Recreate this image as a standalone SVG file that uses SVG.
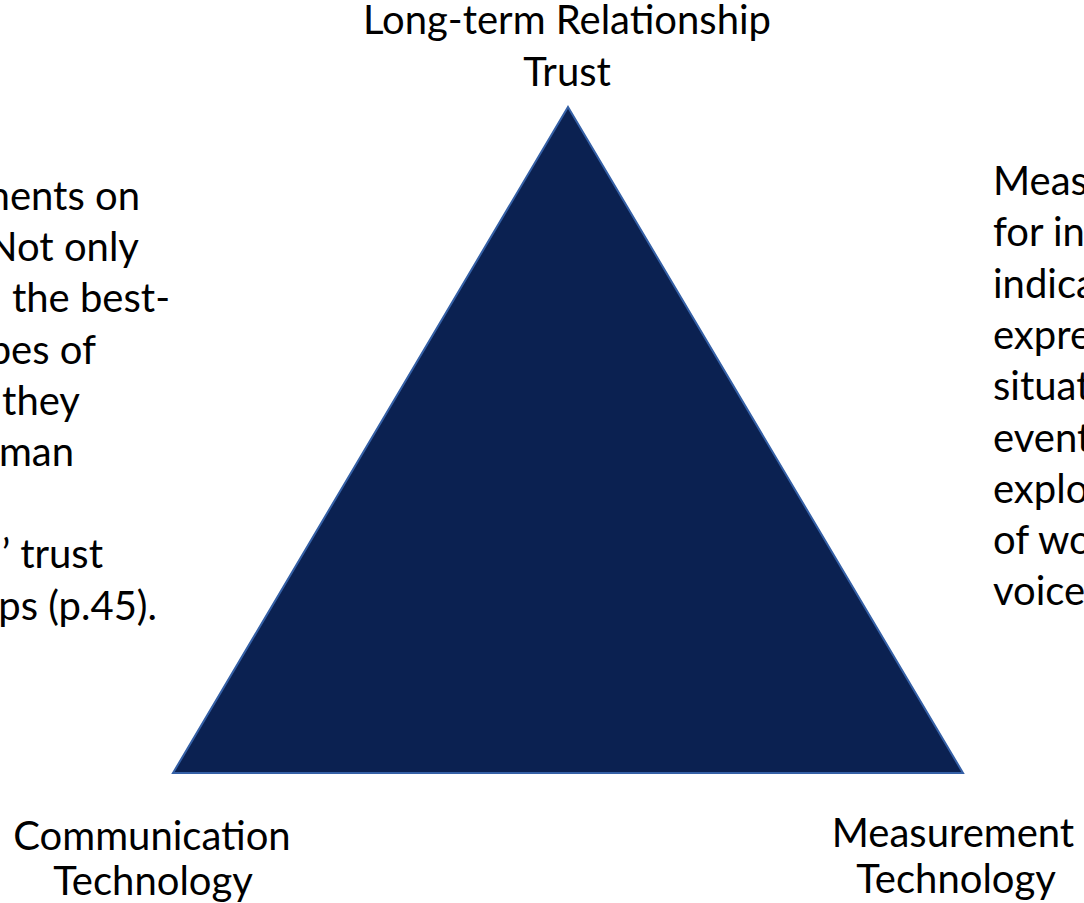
<svg xmlns="http://www.w3.org/2000/svg" width="1084" height="903" viewBox="0 0 1084 903">
  <style>
    .lbl { font-family: Lato, "Open Sans", "Liberation Sans", sans-serif; font-size: 40px; fill: #000000; }
    .mid { text-anchor: middle; }
    .end { text-anchor: end; }
    .tri { fill: #0b2151; stroke: #3560a6; stroke-width: 2; stroke-linejoin: miter; }
  </style>
  <rect width="1084" height="903" fill="#ffffff"/>

  <!-- central triangle -->
  <g id="triangle">
    <polygon class="tri" points="568,107 963,773 173,773"/>
  </g>

  <!-- connectors: none drawn -->
  <g id="connectors"/>

  <!-- apex label -->
  <g id="node-trust">
    <text class="lbl mid" x="567" y="34">Long-term Relationship</text>
    <text class="lbl mid" x="567" y="86">Trust</text>
  </g>

  <!-- bottom-left label -->
  <g id="node-communication">
    <text class="lbl mid" x="152" y="850">Communication</text>
    <text class="lbl mid" x="153" y="895">Technology</text>
  </g>

  <!-- bottom-right label -->
  <g id="node-measurement">
    <text class="lbl mid" x="953" y="847">Measurement</text>
    <text class="lbl mid" x="956" y="893">Technology</text>
  </g>

  <!-- left note, running off the left edge -->
  <g id="note-left">
    <text class="lbl end" x="140" y="210">ments on</text>
    <text class="lbl end" x="139" y="261">Not only</text>
    <text class="lbl end" x="170" y="312">the best-</text>
    <text class="lbl end" x="96" y="364">pes of</text>
    <text class="lbl end" x="80" y="415">they</text>
    <text class="lbl end" x="74" y="466">man</text>
    <text class="lbl end" x="103" y="568">’ trust</text>
    <text class="lbl end" x="157" y="620">ps (p.45).</text>
  </g>

  <!-- right note, running off the right edge -->
  <g id="note-right">
    <text class="lbl" x="993" y="195">Meas</text>
    <text class="lbl" x="993" y="246">for in</text>
    <text class="lbl" x="993" y="298">indica</text>
    <text class="lbl" x="993" y="349">expre</text>
    <text class="lbl" x="993" y="400">situat</text>
    <text class="lbl" x="993" y="452">event</text>
    <text class="lbl" x="993" y="503">explo</text>
    <text class="lbl" x="993" y="554">of wo</text>
    <text class="lbl" x="993" y="605">voice</text>
  </g>
</svg>
